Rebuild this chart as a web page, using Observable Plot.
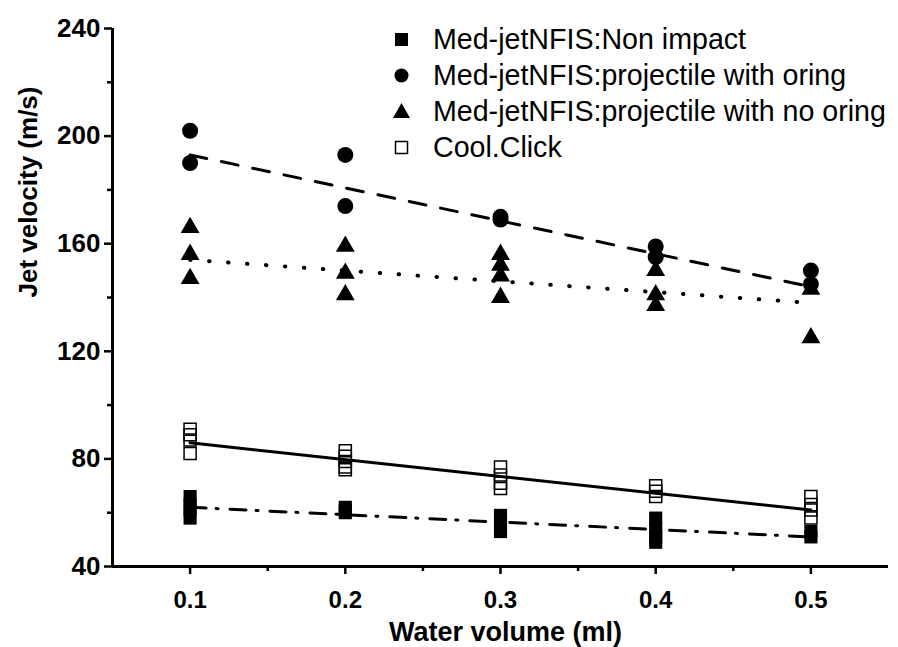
<!DOCTYPE html>
<html>
<head>
<meta charset="utf-8">
<script src="https://cdn.jsdelivr.net/npm/d3@7"></script>
<script src="https://cdn.jsdelivr.net/npm/@observablehq/plot@0.6"></script>
<style>
  html, body { margin: 0; padding: 0; background: #fff; }
  #wrap { position: relative; width: 898px; height: 647px; }
  #legend { position: absolute; left: 393px; top: 21px; font-family: "Liberation Sans", Arial, sans-serif; font-size: 28.6px; color: #000; }
  #legend .row { position: relative; height: 36px; line-height: 36px; white-space: nowrap; }
  #legend svg { position: absolute; left: 0; top: 8px; }
  #legend span { position: absolute; left: 40px; top: 0; }
  svg text { font-family: "Liberation Sans", Arial, sans-serif; }
</style>
</head>
<body>
<div id="wrap"></div>
<script>
// ---- data ----
const volumes = [0.1, 0.2, 0.3, 0.4, 0.5];

const nonImpact = [[66, 63, 61, 58], [62, 61, 60], [59, 56, 53], [58, 54, 51, 49], [53, 51]];
const withOring = [[202, 190], [193, 174], [170, 169], [159, 155], [150, 145]];
const noOring   = [[166, 156, 147], [159, 149, 141], [156, 152, 148, 140], [150, 141, 137], [143, 125]];
const coolClick = [[91, 89, 87, 82], [83, 81, 79, 77, 76], [77, 74, 71, 69], [70, 68, 66], [66, 63, 61, 58]];

// linear fit lines (value at first and last volume)
const fitVolumes   = [0.1, 0.5];
const nonImpactFit = [62, 51];
const withOringFit = [193, 144];
const noOringFit   = [154, 138];
const coolClickFit = [86, 61];

const seriesNames = [
  "Med-jetNFIS:Non impact",
  "Med-jetNFIS:projectile with oring",
  "Med-jetNFIS:projectile with no oring",
  "Cool.Click"
];

const xTicks = [0.1, 0.2, 0.3, 0.4, 0.5];
const xMinor = [0.15, 0.25, 0.35, 0.45];
const yTicks = [40, 80, 120, 160, 200, 240];
const yMinor = [60, 100, 140, 180, 220];

// ---- build tables ----
const flat = (arr) => arr.flatMap((vals, i) => vals.map(v => ({x: volumes[i], y: v})));
const fit = (arr) => arr.map((v, i) => ({x: fitVolumes[i], y: v}));

const chart = Plot.plot({
  width: 898,
  height: 647,
  marginLeft: 112,
  marginRight: 10,
  marginTop: 28,
  marginBottom: 81,
  style: {fontFamily: "Liberation Sans, Arial, sans-serif", background: "#fff"},
  x: {domain: [0.05, 0.55], label: null},
  y: {domain: [40, 240], label: null},
  marks: [
    // fit lines
    Plot.line(fit(withOringFit), {x: "x", y: "y", stroke: "#000", strokeWidth: 3, strokeDasharray: "17,15"}),
    Plot.line(fit(noOringFit), {x: "x", y: "y", stroke: "#000", strokeWidth: 4, strokeDasharray: "0.5,18.5", strokeLinecap: "round"}),
    Plot.line(fit(coolClickFit), {x: "x", y: "y", stroke: "#000", strokeWidth: 3}),
    Plot.line(fit(nonImpactFit), {x: "x", y: "y", stroke: "#000", strokeWidth: 3, strokeDasharray: "16,10,2,12"}),
    // points
    Plot.dot(flat(nonImpact), {x: "x", y: "y", symbol: "square", r: 7.4, fill: "#000", stroke: "none"}),
    Plot.dot(flat(coolClick), {x: "x", y: "y", symbol: "square", r: 6.8, fill: "#fff", fillOpacity: 0, stroke: "#000", strokeWidth: 1.5}),
    Plot.dot(flat(withOring), {x: "x", y: "y", symbol: "circle", r: 8, fill: "#000", stroke: "none"}),
    Plot.dot(flat(noOring), {x: "x", y: "y", symbol: "triangle", r: 7, fill: "#000", stroke: "none"}),
    // axes
    Plot.axisX({ticks: xTicks, tickSize: 8, tickPadding: 16, tickFormat: d3.format(".1f"), fontSize: 24, fontWeight: "bold", strokeWidth: 2.5, label: null}),
    Plot.axisX({ticks: xMinor, tickSize: 5, tickFormat: () => "", strokeWidth: 2.5, label: null}),
    Plot.axisY({ticks: yTicks, tickSize: 8, tickPadding: 4, fontSize: 26, fontWeight: "bold", strokeWidth: 2.5, label: null}),
    Plot.axisY({ticks: yMinor, tickSize: 5, tickFormat: () => "", strokeWidth: 2.5, label: null}),
    Plot.ruleX([0.05], {stroke: "#000", strokeWidth: 3}),
    Plot.ruleY([40], {stroke: "#000", strokeWidth: 3}),
    // axis titles
    Plot.text(["Water volume (ml)"], {frameAnchor: "bottom", lineAnchor: "middle", dx: 5, dy: 66, fontSize: 27, fontWeight: "bold", fill: "#000"}),
    Plot.text(["Jet velocity (m/s)"], {frameAnchor: "left", dx: -84, rotate: -90, fontSize: 26, fontWeight: "bold", fill: "#000"})
  ]
});
chart.querySelectorAll("text").forEach(t => t.setAttribute("fill", "#000"));
const wrap = document.getElementById("wrap");
wrap.appendChild(chart);

// legend overlay
const symbolsSvg = [
  '<rect x="2" y="4" width="13" height="13" fill="#000"/>',
  '<circle cx="8.5" cy="10.5" r="7" fill="#000"/>',
  '<polygon points="8.5,2 17,17 0,17" fill="#000"/>',
  '<rect x="2.5" y="4.5" width="12" height="12" fill="#fff" stroke="#000" stroke-width="1.5"/>'
];
const legend = document.createElement("div");
legend.id = "legend";
seriesNames.forEach((name, i) => {
  const row = document.createElement("div");
  row.className = "row";
  row.innerHTML = `<svg width="18" height="20">${symbolsSvg[i]}</svg><span>${name}</span>`;
  legend.appendChild(row);
});
wrap.appendChild(legend);
</script>
</body>
</html>
